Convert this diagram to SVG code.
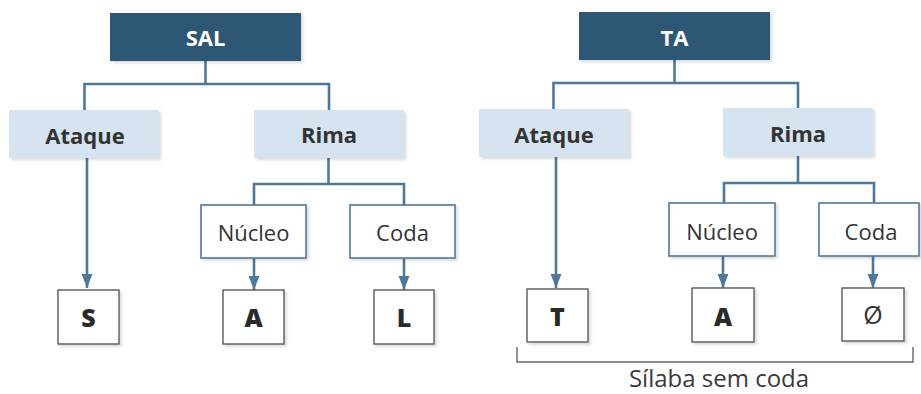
<svg xmlns="http://www.w3.org/2000/svg" width="921" height="394" viewBox="0 0 921 394">
<style>
.root{fill:#2f5674}
.lvl1{fill:#d6e3f0}
.sub{fill:#ffffff;stroke:#4f7799;stroke-width:1.6}
.leaf{fill:#ffffff;stroke:#5a5a5a;stroke-width:1.4}
.t{font-family:"Open Sans","Noto Sans","Liberation Sans",sans-serif;font-size:22px;text-anchor:middle;fill:#333333}
.b{font-weight:bold}
.w{fill:#ffffff}
.lf{font-size:25px;font-weight:800;fill:#2a2a2a}
.z{font-size:25px;fill:#333333}
.lab{font-size:24px;fill:#3a3a3a}
.c{fill:none;stroke:#4f7799;stroke-width:2.6}
.br{fill:none;stroke:#666666;stroke-width:1.4}
</style>
<defs>
<marker id="ah" markerUnits="userSpaceOnUse" markerWidth="14" markerHeight="18" refX="18" refY="7" orient="auto" viewBox="0 0 18 14">
<path d="M0,0 L18,7 L0,14 Z" fill="#4f7799"/>
</marker>
<filter id="sh" x="-10%" y="-10%" width="125%" height="130%">
<feDropShadow dx="2" dy="2" stdDeviation="1.5" flood-color="#000" flood-opacity="0.15"/>
</filter>
</defs>
<g id="connectors">
<path class="c" d="M205.5,61 V84 M84.5,110 V84 H329 V110"/>
<path class="c" d="M87,158 V288" marker-end="url(#ah)"/>
<path class="c" d="M328.5,158 V184 M254,205 V184 H404 V205"/>
<path class="c" d="M254,258 V290" marker-end="url(#ah)"/>
<path class="c" d="M404,258 V290" marker-end="url(#ah)"/>
<path class="c" d="M674.5,60 V83 M553.5,109 V83 H798 V108"/>
<path class="c" d="M556,157 V288" marker-end="url(#ah)"/>
<path class="c" d="M798,156 V183 M724,203 V183 H874 V203"/>
<path class="c" d="M723,256 V288" marker-end="url(#ah)"/>
<path class="c" d="M873,256 V288" marker-end="url(#ah)"/>
</g>
<g id="sal"><rect class="root" x="110" y="13" width="191" height="48" filter="url(#sh)"/><text class="t b w" x="205.5" y="46">SAL</text></g>
<g id="ataque1"><rect class="lvl1" x="9" y="110" width="150" height="48" filter="url(#sh)"/><text class="t b" x="85" y="144">Ataque</text></g>
<g id="rima1"><rect class="lvl1" x="254" y="110" width="150" height="48" filter="url(#sh)"/><text class="t b" x="329" y="143">Rima</text></g>
<g id="nucleo1"><rect class="sub" x="201" y="205" width="105" height="53" filter="url(#sh)"/><text class="t" x="253.5" y="241">Núcleo</text></g>
<g id="coda1"><rect class="sub" x="350" y="205" width="105" height="53" filter="url(#sh)"/><text class="t" x="402.5" y="241">Coda</text></g>
<g id="s"><rect class="leaf" x="58" y="290" width="61" height="54" filter="url(#sh)"/><text class="t lf" x="88.5" y="326.5">S</text></g>
<g id="a1"><rect class="leaf" x="223" y="290" width="61" height="54" filter="url(#sh)"/><text class="t lf" x="253.5" y="326.5">A</text></g>
<g id="l"><rect class="leaf" x="374" y="290" width="60" height="54" filter="url(#sh)"/><text class="t lf" x="404" y="326.5">L</text></g>
<g id="ta"><rect class="root" x="579" y="12" width="191" height="48" filter="url(#sh)"/><text class="t b w" x="674.5" y="45.5">TA</text></g>
<g id="ataque2"><rect class="lvl1" x="479" y="109" width="150" height="48" filter="url(#sh)"/><text class="t b" x="554" y="143">Ataque</text></g>
<g id="rima2"><rect class="lvl1" x="723" y="108" width="150" height="48" filter="url(#sh)"/><text class="t b" x="798" y="142">Rima</text></g>
<g id="nucleo2"><rect class="sub" x="669" y="203" width="106" height="53" filter="url(#sh)"/><text class="t" x="722" y="240">Núcleo</text></g>
<g id="coda2"><rect class="sub" x="819" y="203" width="100" height="53" filter="url(#sh)"/><text class="t" x="871" y="240">Coda</text></g>
<g id="t"><rect class="leaf" x="527" y="289" width="61" height="53" filter="url(#sh)"/><text class="t lf" x="557.5" y="325.5">T</text></g>
<g id="a2"><rect class="leaf" x="692" y="288" width="62" height="54" filter="url(#sh)"/><text class="t lf" x="723" y="325.5">A</text></g>
<g id="zero"><rect class="leaf" x="842" y="288" width="62" height="53" filter="url(#sh)"/><text class="t z" x="873" y="324">Ø</text></g>
<g id="bracket"><path class="br" d="M517,347 V362 H913 V347"/><text class="t lab" x="719" y="387">Sílaba sem coda</text></g>
</svg>
